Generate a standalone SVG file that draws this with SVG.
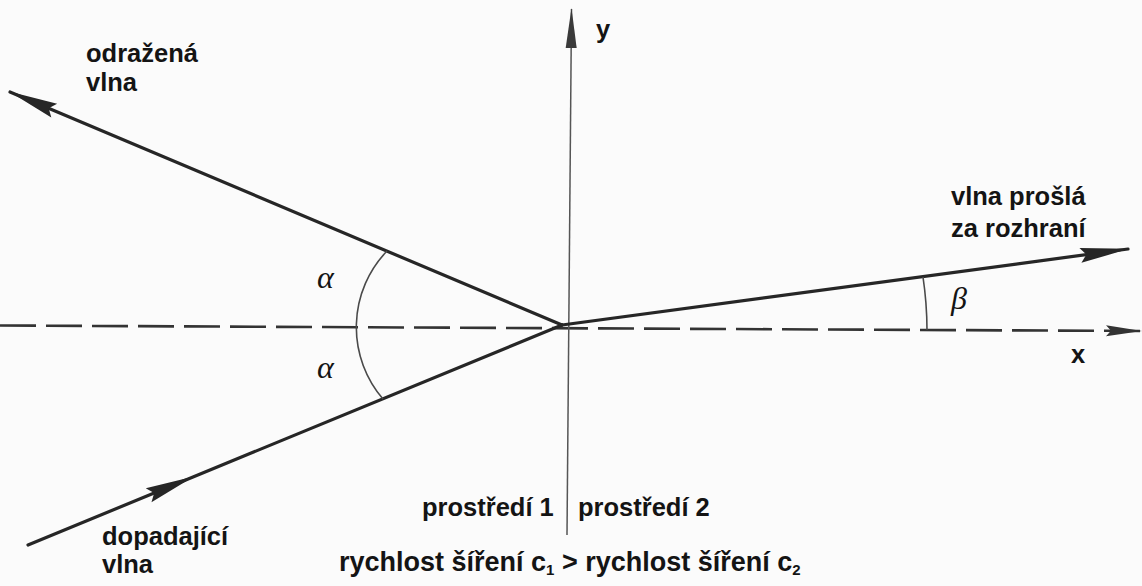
<svg xmlns="http://www.w3.org/2000/svg" width="1142" height="586" viewBox="0 0 1142 586">
<style>
.lbl{font-family:"Liberation Sans",Arial,sans-serif;font-weight:bold;font-size:25.5px;fill:#141414}
.bot{font-size:27px}
.gr{font-family:"Liberation Serif","Times New Roman",serif;font-style:italic;font-size:32px;fill:#141414}
.ray{stroke:#262626;stroke-width:3.2;fill:none;stroke-linecap:round}
.axis{stroke:#555;stroke-width:1.5;fill:none}
.dash{stroke:#333;stroke-width:2.6;fill:none;stroke-dasharray:36 10}
.arc{stroke:#4a4a4a;stroke-width:1.6;fill:none}
</style>
<defs>
<marker id="ah" viewBox="-50 -9 52 18" refX="0" refY="0" markerWidth="52" markerHeight="18" markerUnits="userSpaceOnUse" orient="auto">
<path d="M1,0 L-48,-7.5 L-42,0 L-48,7.5 Z" fill="#262626"/>
</marker>
<marker id="ay" viewBox="-42 -7 44 14" refX="0" refY="0" markerWidth="44" markerHeight="14" markerUnits="userSpaceOnUse" orient="auto">
<path d="M1,0 L-39,-5.5 L-39,5.5 Z" fill="#3a3a3a"/>
</marker>
<marker id="ax" viewBox="-38 -7 40 14" refX="0" refY="0" markerWidth="40" markerHeight="14" markerUnits="userSpaceOnUse" orient="auto">
<path d="M1,0 L-35,-5.5 L-30,0 L-35,5.5 Z" fill="#333"/>
</marker>
</defs>
<rect width="1142" height="586" fill="#fbfbfb"/>
<g id="connectors">
<path id="x-axis" class="dash" d="M0,325.5 L1141,331" marker-end="url(#ax)"/>
<path id="y-axis" class="axis" d="M567,535 L571.5,9" marker-end="url(#ay)"/>
<path id="reflected" class="ray" d="M562,325 L10,92" marker-end="url(#ah)"/>
<path id="incident" class="ray" d="M28,545 L193,477 L562,325" marker-mid="url(#ah)"/>
<path id="transmitted" class="ray" d="M562,325 L1128,249" marker-end="url(#ah)"/>
<path id="arc-alpha" class="arc" d="M387,251 A110,110 0 0,0 383,399"/>
<path id="arc-beta" class="arc" d="M923,277 A364,364 0 0,1 927,330"/>
</g>
<g id="label-reflected"><text class="lbl" x="86" y="62">odražená</text><text class="lbl" x="86" y="91">vlna</text></g>
<g id="label-y"><text class="lbl" x="596" y="38">y</text></g>
<g id="label-transmitted"><text class="lbl" x="951" y="205">vlna prošlá</text><text class="lbl" x="951" y="237">za rozhraní</text></g>
<g id="label-x"><text class="lbl" x="1071" y="363">x</text></g>
<g id="label-incident"><text class="lbl" x="102" y="545">dopadající</text><text class="lbl" x="102" y="573">vlna</text></g>
<g id="label-medium1"><text class="lbl" x="422" y="516">prostředí 1</text></g>
<g id="label-medium2"><text class="lbl" x="578" y="516">prostředí 2</text></g>
<g id="label-speed"><text class="lbl bot" x="339" y="571">rychlost šíření c<tspan font-size="15" dy="4">1</tspan><tspan dy="-4"> &gt; rychlost šíření c</tspan><tspan font-size="15" dy="4">2</tspan></text></g>
<g id="angle-alpha1"><text class="gr" x="317" y="288">α</text></g>
<g id="angle-alpha2"><text class="gr" x="317" y="378">α</text></g>
<g id="angle-beta"><text class="gr" x="951" y="309">β</text></g>
</svg>
